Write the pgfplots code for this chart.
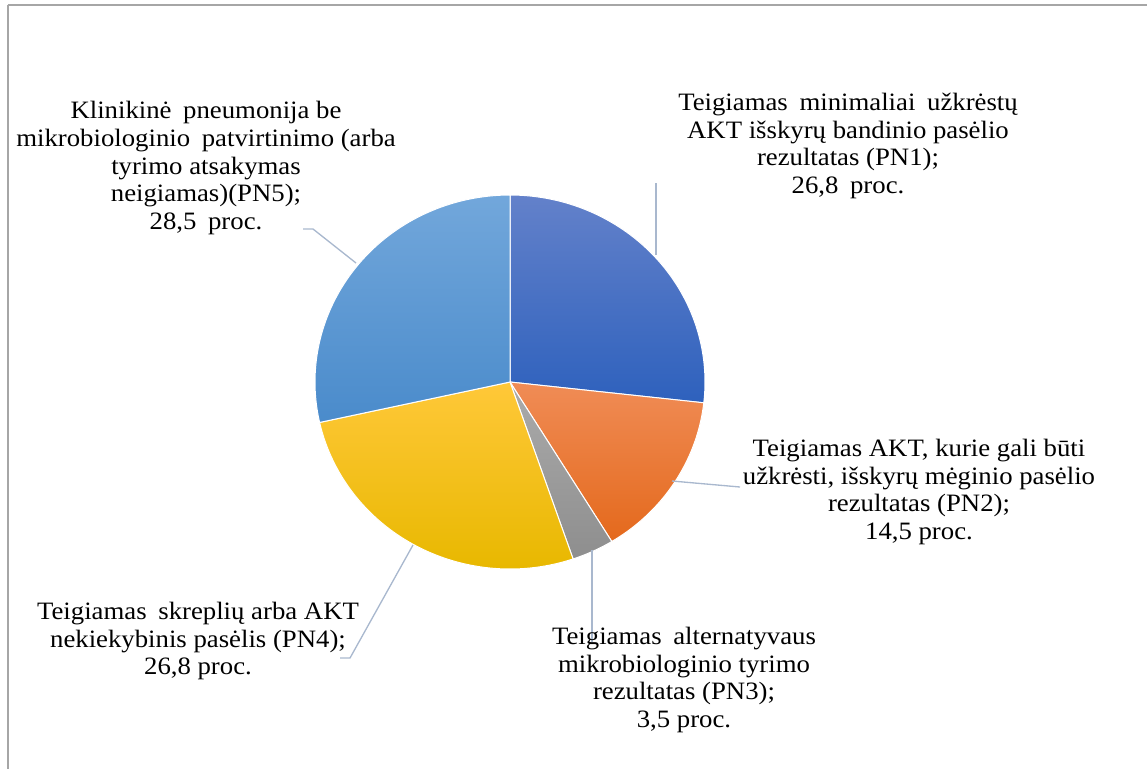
\documentclass[border=0pt]{standalone}
\usepackage{pgfplots}
\pgfplotsset{compat=1.18}
\usepackage{pgfplotstable}
\usepackage{fontspec}
\setmainfont{Liberation Serif}[FakeStretch=1.07]

\definecolor{bluetop}{HTML}{6381CA}
\definecolor{bluebot}{HTML}{2E61BD}
\definecolor{orangetop}{HTML}{F08C56}
\definecolor{orangebot}{HTML}{E4691C}
\definecolor{graytop}{HTML}{ABABAB}
\definecolor{graybot}{HTML}{8E8E8E}
\definecolor{yellowtop}{HTML}{FFC839}
\definecolor{yellowbot}{HTML}{E8B800}
\definecolor{lbluetop}{HTML}{72A7DB}
\definecolor{lbluebot}{HTML}{4A8BCB}
\definecolor{leader}{HTML}{A9B8CE}
\definecolor{frame}{HTML}{A6A6A6}

\pgfplotstableread{
label value
PN1 26.8
PN2 14.5
PN3 3.5
PN4 26.8
PN5 28.5
}\piedata

\pgfplotstablegetelem{0}{value}\of\piedata\let\vA\pgfplotsretval
\pgfplotstablegetelem{1}{value}\of\piedata\let\vB\pgfplotsretval
\pgfplotstablegetelem{2}{value}\of\piedata\let\vC\pgfplotsretval
\pgfplotstablegetelem{3}{value}\of\piedata\let\vD\pgfplotsretval
\pgfplotstablegetelem{4}{value}\of\piedata\let\vE\pgfplotsretval
\pgfmathsetmacro\tot{\vA+\vB+\vC+\vD+\vE}
\pgfmathsetmacro\aO{90}
\pgfmathsetmacro\aA{\aO-360*\vA/\tot}
\pgfmathsetmacro\aB{\aA-360*\vB/\tot}
\pgfmathsetmacro\aC{\aB-360*\vC/\tot}
\pgfmathsetmacro\aD{\aC-360*\vD/\tot}
\pgfmathsetmacro\aE{\aD-360*\vE/\tot}

\newcommand{\wsp}{\hspace{0.2em}}

\begin{document}
\begin{tikzpicture}[lbl/.style={align=center, font=\fontsize{18.75}{20.9}\selectfont, text=black}]
\begin{axis}[
  hide axis, scale only axis,
  width=860.25pt, height=576.75pt,
  xmin=0, xmax=1147, ymin=0, ymax=769,
  y dir=reverse, clip=false, no markers,
  every axis plot/.append style={line join=round},
]
% slices
\addplot[draw=white, line width=0.75pt, top color=bluetop, bottom color=bluebot,
  domain=\aA:\aO, samples=80, variable=\t]
  ({510+195*cos(\t)}, {382-187*sin(\t)}) -- (axis cs:510,382) -- cycle;
\addplot[draw=white, line width=0.75pt, top color=orangetop, bottom color=orangebot,
  domain=\aB:\aA, samples=50, variable=\t]
  ({510+195*cos(\t)}, {382-187*sin(\t)}) -- (axis cs:510,382) -- cycle;
\addplot[draw=white, line width=0.75pt, top color=graytop, bottom color=graybot,
  domain=\aC:\aB, samples=20, variable=\t]
  ({510+195*cos(\t)}, {382-187*sin(\t)}) -- (axis cs:510,382) -- cycle;
\addplot[draw=white, line width=0.75pt, top color=yellowtop, bottom color=yellowbot,
  domain=\aD:\aC, samples=80, variable=\t]
  ({510+195*cos(\t)}, {382-187*sin(\t)}) -- (axis cs:510,382) -- cycle;
\addplot[draw=white, line width=0.75pt, top color=lbluetop, bottom color=lbluebot,
  domain=\aE:\aD, samples=80, variable=\t]
  ({510+195*cos(\t)}, {382-187*sin(\t)}) -- (axis cs:510,382) -- cycle;

% leader lines
\addplot[leader, line width=1pt] coordinates {(656,183) (656,255)};
\addplot[leader, line width=1pt] coordinates {(672,481) (740,487)};
\addplot[leader, line width=1pt] coordinates {(592,550) (592,642)};
\addplot[leader, line width=1pt] coordinates {(413,545) (350,658) (340,658)};
\addplot[leader, line width=1pt] coordinates {(303,229) (313,229) (356,263)};

% frame
\addplot[frame, line width=1.5pt] coordinates {(7.5,5) (1147,5)};
\addplot[frame, line width=1.5pt] coordinates {(7.5,5) (7.5,769)};

% labels
\node[lbl] at (axis cs:848,146) {Teigiamas\wsp{} minimaliai\wsp{} užkrėstų\\AKT išskyrų bandinio pasėlio\\rezultatas (PN1);\\26,8\wsp{} proc.};
\node[lbl] at (axis cs:919,492) {Teigiamas AKT, kurie gali būti\\užkrėsti, išskyrų mėginio pasėlio\\rezultatas (PN2);\\14,5 proc.};
\node[lbl] at (axis cs:684,680) {Teigiamas\wsp{} alternatyvaus\\mikrobiologinio tyrimo\\rezultatas (PN3);\\3,5 proc.};
\node[lbl] at (axis cs:198,641) {Teigiamas\wsp{} skreplių arba AKT\\nekiekybinis pasėlis (PN4);\\26,8 proc.};
\node[lbl] at (axis cs:206,168) {Klinikinė\wsp{} pneumonija be\\mikrobiologinio\wsp{} patvirtinimo (arba\\tyrimo atsakymas\\neigiamas)(PN5);\\28,5\wsp{} proc.};
\end{axis}
\pgfresetboundingbox
\path (0,0) rectangle (860.25pt,576.75pt);
\end{tikzpicture}
\end{document}
